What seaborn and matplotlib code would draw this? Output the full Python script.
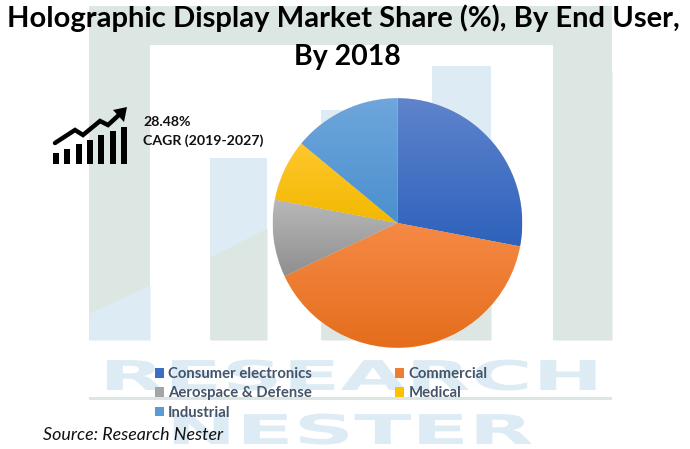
import numpy as np
import matplotlib
matplotlib.use("Agg")
import matplotlib.pyplot as plt
from matplotlib.patheffects import AbstractPathEffect
from matplotlib.patches import Patch
from matplotlib.transforms import Affine2D
from matplotlib.colors import LinearSegmentedColormap
import seaborn as sns

categories = ["Consumer electronics", "Commercial", "Aerospace & Defense", "Medical", "Industrial"]
shares = [28.0, 40.0, 10.0, 8.0, 14.0]
colors_top = ["#5F84CC", "#F58A45", "#B8B8B8", "#FFC72E", "#6FA6DC"]
colors_bottom = ["#2E62BC", "#E56D1C", "#8F8F8F", "#F2B800", "#4A90CE"]
legend_colors = ["#3F6DC2", "#ED7D31", "#A5A5A5", "#FFC000", "#5B9BD5"]
title_line1 = "Holographic Display Market Share (%), By End User,"
title_line2 = "By 2018"
cagr_value = "28.48%"
cagr_label = "CAGR (2019-2027)"
source = "Source: Research Nester"

# background watermark (pixels)
wm_left = [89, 210, 321, 432, 553]
wm_right = [150, 267, 378, 491, 612]
wm_top = [6, 158, 110, 66, 6]
wm_bottom = 340
wm_base = ["#DCE6E2", "#DDEBF4", "#DDEBF4", "#DDEBF4", "#DCE6E2"]
wm_lower = ["#DDEBF4", "#DCE6E2", "#DCE6E2", "#DCE6E2", "#DCE6E2"]
split_left = [313, 257, 203, 200, 100]
split_right = [285, 228, 176, 172, 72]
band_x = [89, 612]
band_y = [6, 45]

icon_x = [53, 64.3, 75.6, 87, 98.3, 109.6, 121]
icon_top = [153, 149, 144, 140, 135, 131, 127]
arrow_x = [55, 75, 83, 100, 108, 120]
arrow_y = [143, 130, 135, 121, 125, 114]
head_x = [127, 113, 124]
head_y = [107, 110, 122]

sns.set_theme(style="white")
plt.rcParams["font.family"] = ["Lato", "DejaVu Sans"]

W, H = 690, 449
fig = plt.figure(figsize=(W / 100, H / 100), dpi=100, facecolor="white")
bg = fig.add_axes([0, 0, 1, 1], zorder=0)
bg.set_xlim(0, W)
bg.set_ylim(H, 0)
bg.axis("off")


class StretchX(AbstractPathEffect):
    def __init__(self, sx, cx):
        super().__init__()
        self.sx, self.cx = sx, cx

    def draw_path(self, renderer, gc, tpath, affine, rgbFace=None):
        a = affine + Affine2D().translate(-self.cx, 0).scale(self.sx, 1).translate(self.cx, 0)
        renderer.draw_path(gc, tpath, a, rgbFace)


for l, r, t, base, low, sl, sr in zip(wm_left, wm_right, wm_top, wm_base, wm_lower, split_left, split_right):
    bg.bar(l, wm_bottom - t, width=r - l, bottom=t, align="edge", color=base, linewidth=0)
    bg.fill_between([l, r], [sl, sr], wm_bottom, color=low, linewidth=0)
bg.fill_between(band_x, band_y[0], band_y[1], color="#DCE6E2", linewidth=0)
bg.fill_between(band_x, 397, 400, color="#DCE6E2", linewidth=0)

t1 = bg.text(351.5, 390, "RESEARCH", fontsize=29.5, fontweight="bold", family="DejaVu Sans",
             color="#DDEBF4", ha="center", va="baseline")
t1.set_path_effects([StretchX(2.06, 351.5)])
t2 = bg.text(350, 444, "NESTER", fontsize=29.5, fontweight="bold", family="DejaVu Sans",
             color="#DDEBF4", ha="center", va="baseline")
t2.set_path_effects([StretchX(2.05, 350)])

# growth icon
bg.bar(icon_x, [164 - t for t in icon_top], width=6, bottom=icon_top, align="edge", color="black", linewidth=0)
bg.plot(arrow_x, arrow_y, color="black", lw=3.2, solid_joinstyle="miter")
bg.fill(head_x, head_y, color="black", linewidth=0)
bg.text(143, 122, cagr_value, fontsize=10.2, fontweight="bold", color="#111111", va="center", ha="left")
bg.text(143, 141, cagr_label, fontsize=10.2, fontweight="bold", color="#111111", va="center", ha="left")

# pie
cx, cy, R = 397.5, 223, 125
ax = fig.add_axes([(cx - R) / W, 1 - (cy + R) / H, 2 * R / W, 2 * R / H], zorder=1)
ax.patch.set_alpha(0)
wedges, _ = ax.pie(shares, startangle=90, counterclock=False, radius=1, colors=legend_colors,
                   wedgeprops=dict(edgecolor="#FBEFE6", linewidth=0.5))
for w, ct, cb in zip(wedges, colors_top, colors_bottom):
    bb = w.get_path().transformed(w.get_patch_transform()).get_extents()
    cmap = LinearSegmentedColormap.from_list("g", [ct, cb])
    im = ax.imshow(np.linspace(0, 1, 128).reshape(-1, 1), cmap=cmap, aspect="auto", origin="upper",
                   extent=[bb.x0, bb.x1, bb.y0, bb.y1], zorder=w.get_zorder() + 0.1)
    im.set_clip_path(w)
ax.set_xlim(-1.002, 1.002)
ax.set_ylim(-1.002, 1.002)
ax.set_aspect("equal")

# legend (column order gives reading order across rows)
order = [0, 2, 4, 1, 3]
fs = 10.7
hs = [Patch(facecolor=legend_colors[i], edgecolor="none") for i in order]
leg = fig.legend(hs, [categories[i] for i in order], ncol=2, frameon=False,
                 prop=dict(family="Lato", weight="bold", size=fs),
                 loc="upper left", bbox_to_anchor=(155 / W, 1 - 367 / H),
                 borderpad=0, borderaxespad=0, handlelength=0.61, handleheight=0.61,
                 handletextpad=0.28, columnspacing=5.6, labelspacing=0.36, labelcolor="#44546A")
leg.set_zorder(3)

fig.text(343.5 / W, 1 - 18 / H, title_line1, fontsize=21, fontweight="bold", color="black",
         ha="center", va="center", zorder=5)
fig.text(347 / W, 1 - 57 / H, title_line2, fontsize=20.5, fontweight="bold", color="black",
         ha="center", va="center", zorder=5)
fig.text(43 / W, 1 - 435 / H, source, fontsize=12.9, style="italic", color="#111111",
         ha="left", va="center", zorder=5)

fig.savefig("out.png", dpi=100)
